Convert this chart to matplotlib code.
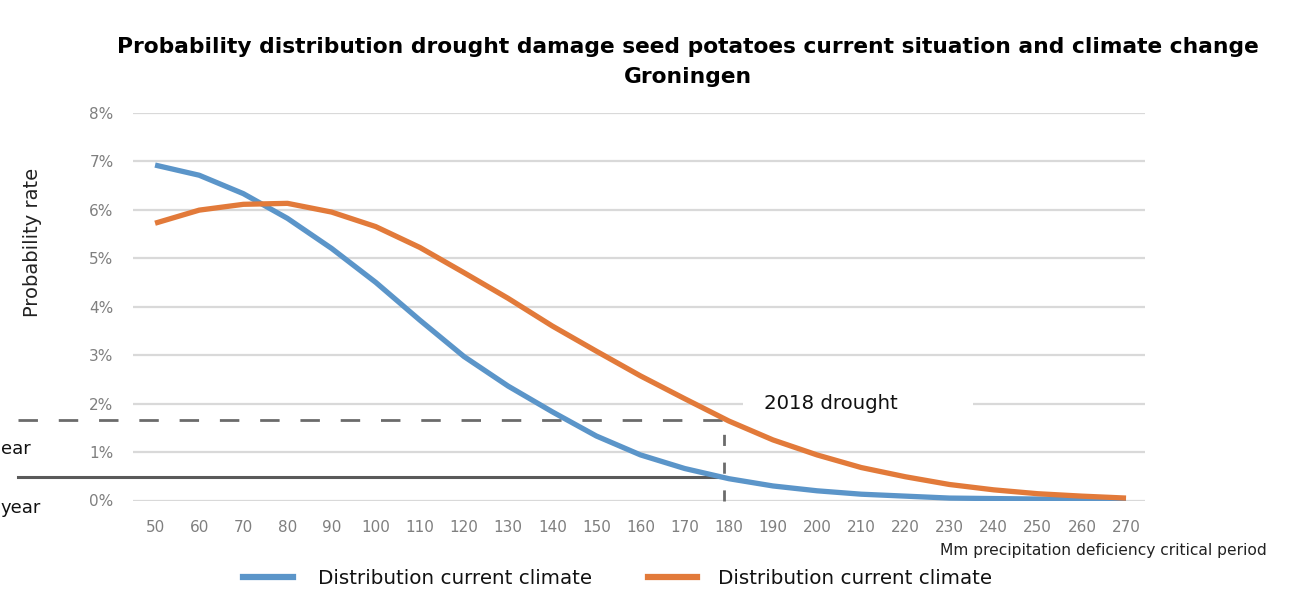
import matplotlib
matplotlib.use("Agg")
import matplotlib.pyplot as plt
from matplotlib.patches import Rectangle
from matplotlib.lines import Line2D

# ---------------- data ----------------
deficiency_mm = [50, 60, 70, 80, 90, 100, 110, 120, 130, 140, 150, 160, 170,
                 180, 190, 200, 210, 220, 230, 240, 250, 260, 270]
current_climate = [6.92, 6.71, 6.33, 5.82, 5.20, 4.50, 3.72, 2.97, 2.36, 1.83,
                   1.33, 0.94, 0.66, 0.45, 0.30, 0.20, 0.13, 0.09, 0.05, 0.04,
                   0.03, 0.03, 0.03]
future_climate = [5.72, 5.99, 6.11, 6.13, 5.95, 5.65, 5.22, 4.70, 4.17, 3.60,
                  3.08, 2.57, 2.10, 1.64, 1.25, 0.94, 0.68, 0.49, 0.33, 0.22,
                  0.14, 0.09, 0.05]
y_ticks = [0, 1, 2, 3, 4, 5, 6, 7, 8]
y_tick_labels = ["0%", "1%", "2%", "3%", "4%", "5%", "6%", "7%", "8%"]
drought_2018_x = 179
drought_2018_prob = 1.67
rare_year_prob = 0.49
ref_line_start = 19

title = ("Probability distribution drought damage seed potatoes current situation and climate change\n"
         "Groningen")
ylabel = "Probability rate"
xlabel = "Mm precipitation deficiency critical period"
legend_labels = ["Distribution current climate", "Distribution current climate"]
left_texts = ["ear", "year"]
annotation = "2018 drought"

BLUE = "#5b95c9"
ORANGE = "#e27a3a"
TXT_FONT = "DejaVu Sans"

W, H = 1304, 592
fig = plt.figure(figsize=(W / 100, H / 100), dpi=100)
fig.patch.set_facecolor("white")

# axes: left 133 px, right 1145 px, top 112.7 px, bottom 500.5 px
ax = fig.add_axes([133 / W, 1 - 500.5 / H, (1145 - 133) / W, (500.5 - 112.7) / H])
ax.set_xlim(45.0, 274.3)
ax.set_ylim(0, 8)

for s in ax.spines.values():
    s.set_visible(False)
ax.set_yticks(y_ticks)
ax.set_yticklabels(y_tick_labels)
ax.set_xticks(deficiency_mm)
ax.set_xticklabels([str(v) for v in deficiency_mm])
ax.tick_params(axis="both", length=0, colors="#7f7f7f", labelsize=11)
ax.tick_params(axis="y", pad=14)
ax.tick_params(axis="x", pad=14)
ax.yaxis.grid(True, color="#d9d9d9", linewidth=1.6)
ax.xaxis.grid(False)
ax.set_axisbelow(True)

ax.plot(deficiency_mm, current_climate, color=BLUE, linewidth=3.8,
        solid_capstyle="butt", solid_joinstyle="round", zorder=3)
ax.plot(deficiency_mm, future_climate, color=ORANGE, linewidth=3.8,
        solid_capstyle="butt", solid_joinstyle="round", zorder=3)

# reference lines
ax.plot([ref_line_start, drought_2018_x], [drought_2018_prob, drought_2018_prob],
        color="#6b6b6b", linewidth=2.0, linestyle=(0, (7, 7.5)), clip_on=False, zorder=2)
ax.plot([ref_line_start, drought_2018_x], [rare_year_prob, rare_year_prob],
        color="#5a5a5a", linewidth=2.2, clip_on=False, zorder=2)
ax.plot([drought_2018_x, drought_2018_x], [0, drought_2018_prob],
        color="#6b6b6b", linewidth=2.0, linestyle=(0, (4, 6)), clip_on=False, zorder=2)

# annotation box
ax.add_patch(Rectangle((183.2, 1.80), 52.1, 0.58, facecolor="white",
                       edgecolor="none", zorder=4))
ax.text(188.0, 2.0, annotation, fontsize=14.2, family=TXT_FONT, color="#111111",
        va="center", ha="left", zorder=5)

# title
fig.text(688 / W, 1 - 62 / H, title, ha="center", va="center", fontsize=15.7,
         fontweight="bold", family="DejaVu Sans", linespacing=1.6)

# y label
fig.text(33 / W, 1 - 242 / H, ylabel, rotation=90, ha="center", va="center",
         fontsize=14, family=TXT_FONT, color="#222222")

# x label
fig.text(1267 / W, 1 - 551 / H, xlabel, ha="right", va="center",
         fontsize=11.2, family=TXT_FONT, color="#222222")

# left partial texts
fig.text(0.5 / W, 1 - 449 / H, left_texts[0], ha="left", va="center",
         fontsize=13, family=TXT_FONT, color="#111111")
fig.text(0.5 / W, 1 - 508 / H, left_texts[1], ha="left", va="center",
         fontsize=13, family=TXT_FONT, color="#111111")

# legend
for (x0, x1, tx), col, lab in zip([(243, 293, 318), (648, 697, 718)],
                                  [BLUE, ORANGE], legend_labels):
    fig.add_artist(Line2D([x0 / W, x1 / W], [1 - 577 / H, 1 - 577 / H],
                          color=col, linewidth=4.5, transform=fig.transFigure))
    fig.text(tx / W, 1 - 579 / H, lab, ha="left", va="center",
             fontsize=14.3, family=TXT_FONT, color="#111111")

fig.savefig("out.png", dpi=100, facecolor="white")
